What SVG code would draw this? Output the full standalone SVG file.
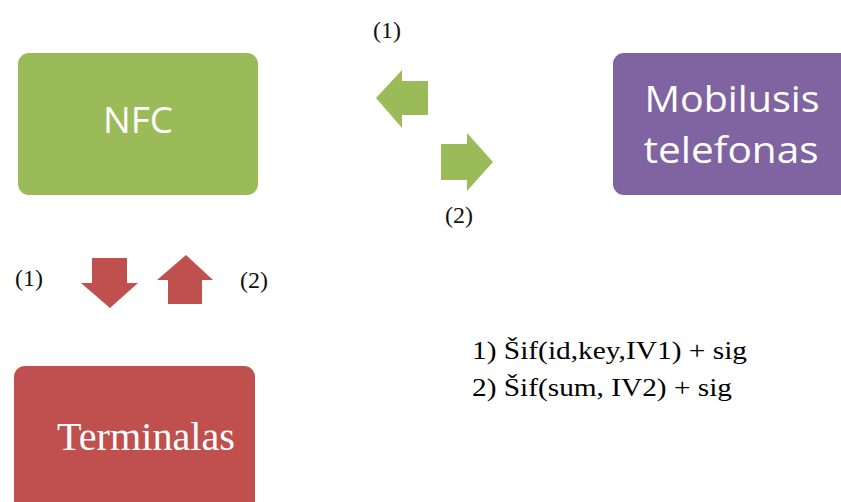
<svg xmlns="http://www.w3.org/2000/svg" width="841" height="502" viewBox="0 0 841 502">
  <style>
    .box-green { fill: #9BBB59; }
    .box-purple { fill: #8064A2; }
    .box-red { fill: #C0504D; }
    .arrow-green { fill: #9BBB59; }
    .arrow-red { fill: #C0504D; }
    .sans { font-family: "Open Sans", "Noto Sans", "DejaVu Sans", sans-serif; fill: #FFFFFF; }
    .serif { font-family: "Liberation Serif", "Times New Roman", serif; }
    .label { font-family: "Liberation Serif", "Times New Roman", serif; font-size: 24px; fill: #111111; }
  </style>
  <rect width="841" height="502" fill="#FFFFFF"/>

  <!-- NFC node -->
  <g id="node-nfc">
    <rect class="box-green" x="18" y="53" width="240" height="142" rx="11" ry="11"/>
    <text class="sans" x="138" y="133" font-size="36" text-anchor="middle" textLength="70" lengthAdjust="spacingAndGlyphs">NFC</text>
  </g>

  <!-- Mobile phone node -->
  <g id="node-mobilusis">
    <rect class="box-purple" x="613" y="53" width="240" height="142" rx="11" ry="11"/>
    <text class="sans" x="732" y="112" font-size="37" text-anchor="middle" textLength="175" lengthAdjust="spacingAndGlyphs">Mobilusis</text>
    <text class="sans" x="731" y="163" font-size="37" text-anchor="middle" textLength="175" lengthAdjust="spacingAndGlyphs">telefonas</text>
  </g>

  <!-- Terminal node -->
  <g id="node-terminalas">
    <rect class="box-red" x="14" y="366" width="241" height="150" rx="11" ry="11"/>
    <text class="serif" x="57" y="450" font-size="40" fill="#FFFFFF" textLength="178" lengthAdjust="spacingAndGlyphs">Terminalas</text>
  </g>

  <!-- Block arrows between nodes -->
  <g id="connectors">
    <polygon class="arrow-green" points="376,98 402,70 402,81 428,81 428,115 402,115 402,128"/>
    <polygon class="arrow-green" points="441,144 467,144 467,133 493,162 467,191 467,180 441,180"/>
    <polygon class="arrow-red" points="92,258 127,258 127,283 138,283 110,308 81,283 92,283"/>
    <polygon class="arrow-red" points="186,255 213,280 202,280 202,304 168,304 168,280 157,280"/>
  </g>

  <!-- Step labels -->
  <g id="labels">
    <text class="label" x="373" y="38">(1)</text>
    <text class="label" x="445" y="223">(2)</text>
    <text class="label" x="15" y="286">(1)</text>
    <text class="label" x="240" y="288">(2)</text>
  </g>

  <!-- Legend -->
  <g id="legend" class="serif" font-size="26" fill="#000000">
    <text x="472" y="359" textLength="275" lengthAdjust="spacingAndGlyphs">1) Šif(id,key,IV1) + sig</text>
    <text x="472" y="396" textLength="260" lengthAdjust="spacingAndGlyphs">2) Šif(sum, IV2) + sig</text>
  </g>
</svg>
